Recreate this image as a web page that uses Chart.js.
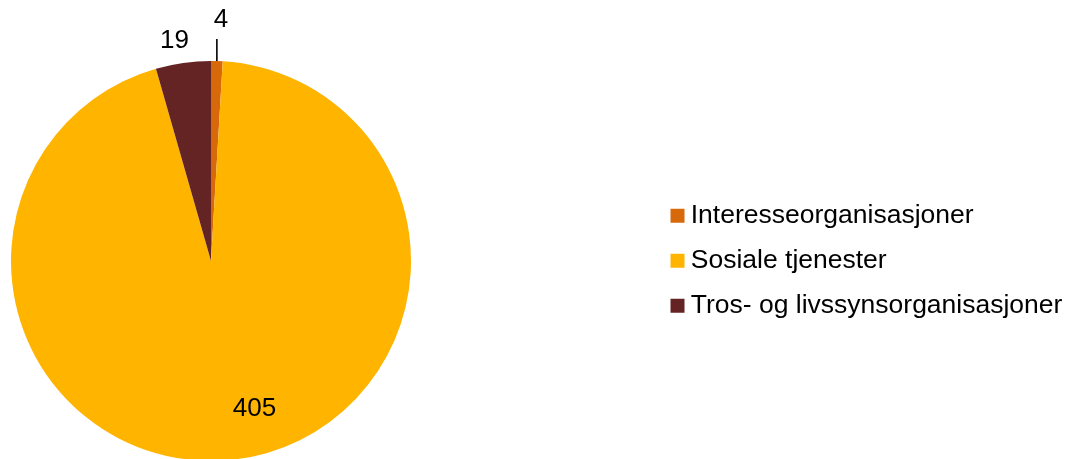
<!DOCTYPE html>
<html>
<head>
<meta charset="utf-8">
<script src="https://cdn.jsdelivr.net/npm/chart.js@4/dist/chart.umd.min.js"></script>
<style>
  html, body { margin: 0; padding: 0; overflow: hidden; background: #fff; }
  #wrap { position: absolute; left: 0; top: 0; width: 1077px; height: 461px; }
</style>
</head>
<body>
<div id="wrap"><canvas id="c" width="1077" height="461"></canvas></div>
<script>
// Categories and counts
const categories = ['Interesseorganisasjoner', 'Sosiale tjenester', 'Tros- og livssynsorganisasjoner'];
const counts = [4, 405, 19];
const sliceColors = ['#D8690B', '#FFB400', '#642424'];

const FONT = '"Liberation Sans", Arial, Helvetica, sans-serif';
const LABEL_SIZE = 26;
const LEGEND_SIZE = 26.5;

// Pie occupies a 400px square; the legend sits in the band to its right
const PIE_LEFT = 11, PIE_TOP = 61, PIE_SIZE = 400;
const LEGEND_LEFT = 659, LEGEND_TOP = 184;

// Where each value label sits: radial distance as a share of the radius,
// angular nudge in degrees, and an optional vertical leader line length (share of radius)
const labelPlacement = [
  { r: 1.206, nudge: 0.7, leader: 0.11 },
  { r: 0.769, nudge: -10.1 },
  { r: 1.118, nudge: -1.4 }
];

const sliceLabels = {
  id: 'sliceLabels',
  afterDatasetsDraw(chart) {
    const ctx = chart.ctx;
    const meta = chart.getDatasetMeta(0);
    const values = chart.data.datasets[0].data;
    ctx.save();
    ctx.font = LABEL_SIZE + 'px ' + FONT;
    ctx.fillStyle = '#000';
    ctx.strokeStyle = '#000';
    ctx.textAlign = 'center';
    ctx.textBaseline = 'middle';
    meta.data.forEach((arc, i) => {
      const { x, y, startAngle, endAngle, outerRadius } =
        arc.getProps(['x', 'y', 'startAngle', 'endAngle', 'outerRadius'], true);
      const mid = (startAngle + endAngle) / 2;
      const p = labelPlacement[i];
      if (p.leader) {
        const ex = x + Math.cos(mid) * outerRadius;
        const ey = y + Math.sin(mid) * outerRadius;
        ctx.beginPath();
        ctx.moveTo(ex, ey);
        ctx.lineTo(ex, ey - outerRadius * p.leader);
        ctx.lineWidth = 1.6;
        ctx.stroke();
      }
      const a = mid + p.nudge * Math.PI / 180;
      ctx.fillText(String(values[i]),
        x + Math.cos(a) * outerRadius * p.r,
        y + Math.sin(a) * outerRadius * p.r);
    });
    ctx.restore();
  }
};

// Reserve the whole right-hand band for the legend, then set its box inside that band
const legendBand = {
  id: 'legendBand',
  afterInit(chart) {
    const lg = chart.legend;
    const fit = lg.fit;
    lg.fit = function () {
      fit.call(this);
      this.width = chart.width - (PIE_LEFT + PIE_SIZE);
    };
  },
  afterLayout(chart) {
    const lg = chart.legend;
    lg.left = LEGEND_LEFT;
    lg.right = chart.width;
    lg.top = LEGEND_TOP;
    lg.bottom = chart.height;
    lg.width = lg.right - lg.left;
    lg.height = lg.bottom - lg.top;
  }
};

new Chart(document.getElementById('c'), {
  type: 'pie',
  data: {
    labels: categories,
    datasets: [{
      data: counts,
      backgroundColor: sliceColors,
      borderWidth: 0
    }]
  },
  options: {
    responsive: false,
    animation: false,
    layout: { padding: { left: PIE_LEFT, top: PIE_TOP, right: 0, bottom: 0 } },
    plugins: {
      tooltip: { enabled: false },
      legend: {
        position: 'right',
        align: 'start',
        labels: {
          usePointStyle: true,
          pointStyle: 'rect',
          boxWidth: 0.01,
          boxHeight: 14,
          padding: 18.5,
          color: '#000',
          font: { family: FONT, size: LEGEND_SIZE }
        }
      }
    }
  },
  plugins: [sliceLabels, legendBand]
});
</script>
</body>
</html>
